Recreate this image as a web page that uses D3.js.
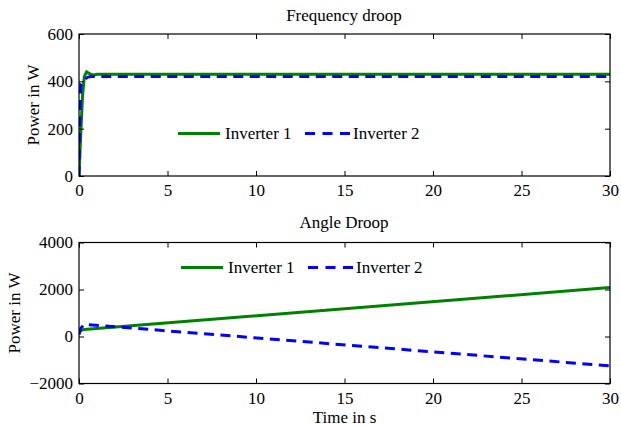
<!DOCTYPE html>
<html><head><meta charset="utf-8">
<script src="https://cdn.jsdelivr.net/npm/d3@7"></script>
<style>body{margin:0;background:#fff}svg text{font-family:"Liberation Serif","Times New Roman",serif;fill:#000}</style>
</head><body><svg id="c" width="621" height="426"></svg>
<script>
// Data
const xTicks = [0,5,10,15,20,25,30];
const yTicksTop = [0,200,400,600];
const yTicksBot = [-2000,0,2000,4000];
const seriesNames = ["Inverter 1","Inverter 2"];
// Frequency droop
const freqT1 = [0,0.1,0.2,0.3,0.43,0.6,0.8,1.0,1.5,30];
const freqP1 = [0,180,340,420,440,432,426,430,430,430];
const freqT2 = [0,0.05,0.1,0.2,0.35,0.5,0.7,30];
const freqP2 = [0,250,390,398,410,418,420,420];
// Angle droop
const angT1 = [0,0.1,0.3,30];
const angP1 = [150,250,300,2080];
const angT2 = [0,0.1,0.3,30];
const angP2 = [80,350,520,-1250];

const svg = d3.select("#c");
const L=79, R=610;
const x = d3.scaleLinear().domain([0,30]).range([L,R]);
const green="rgb(0,128,0)", blue="rgb(0,0,255)";
const fs=17;

function panel(top,bottom,yDomain,yTicks,title,titleY,ylabX,series,legY,legX){
  const y=d3.scaleLinear().domain(yDomain).range([bottom,top]);
  const g=svg.append("g");
  const line=d3.line().x(d=>x(d[0])).y(d=>y(d[1]));
  const clipId="clip"+Math.round(top);
  svg.append("clipPath").attr("id",clipId).append("rect").attr("x",L).attr("y",top).attr("width",R-L).attr("height",bottom-top);
  series.forEach(s=>{
    g.append("path").datum(s.t.map((t,i)=>[t,s.p[i]])).attr("d",line)
     .attr("fill","none").attr("stroke",s.color).attr("stroke-width",3)
     .attr("stroke-dasharray",s.dash||null).attr("clip-path","url(#"+clipId+")");
  });
  g.append("g").attr("transform",`translate(0,${bottom})`)
   .call(d3.axisBottom(x).tickValues(xTicks).tickSize(-5).tickPadding(8).tickFormat(d3.format("d")))
   .call(a=>{a.select(".domain").remove();a.selectAll("text").attr("font-size",fs).attr("font-family","Liberation Serif");});
  g.append("g").attr("transform",`translate(0,${top})`)
   .call(d3.axisTop(x).tickValues(xTicks).tickSize(-5).tickFormat(""))
   .call(a=>a.select(".domain").remove());
  g.append("g").attr("transform",`translate(${L},0)`)
   .call(d3.axisLeft(y).tickValues(yTicks).tickSize(-5).tickPadding(6).tickFormat(d=>d<0?"\u2212"+Math.abs(d):String(d)))
   .call(a=>{a.select(".domain").remove();a.selectAll("text").attr("font-size",fs).attr("font-family","Liberation Serif");});
  g.append("g").attr("transform",`translate(${R},0)`)
   .call(d3.axisRight(y).tickValues(yTicks).tickSize(-5).tickFormat(""))
   .call(a=>a.select(".domain").remove());
  g.selectAll(".tick line").attr("stroke","#000");
  g.append("rect").attr("x",L).attr("y",top).attr("width",R-L).attr("height",bottom-top)
   .attr("fill","none").attr("stroke","#000").attr("stroke-width",1.2);
  svg.append("text").attr("x",344).attr("y",titleY).attr("text-anchor","middle").attr("font-size",fs).text(title);
  svg.append("text").attr("transform",`translate(${ylabX},${(top+bottom)/2}) rotate(-90)`)
   .attr("text-anchor","middle").attr("font-size",fs).text("Power in W");
  const lg=svg.append("g");
  lg.append("line").attr("x1",legX).attr("x2",legX+42).attr("y1",legY).attr("y2",legY).attr("stroke",green).attr("stroke-width",3);
  lg.append("text").attr("x",legX+47).attr("y",legY+5.5).attr("font-size",fs).text(seriesNames[0]);
  lg.append("line").attr("x1",legX+127).attr("x2",legX+172).attr("y1",legY).attr("y2",legY).attr("stroke",blue).attr("stroke-width",3).attr("stroke-dasharray","10,7.5");
  lg.append("text").attr("x",legX+175).attr("y",legY+5.5).attr("font-size",fs).text(seriesNames[1]);
}

panel(34,176,[0,600],yTicksTop,"Frequency droop",21,39,
  [{t:freqT1,p:freqP1,color:green},{t:freqT2,p:freqP2,color:blue,dash:"10,6.5"}],133.5,178);
panel(242.5,383.5,[-2000,4000],yTicksBot,"Angle Droop",228,20,
  [{t:angT1,p:angP1,color:green},{t:angT2,p:angP2,color:blue,dash:"10,6.5"}],267.5,181);
svg.append("text").attr("x",344.5).attr("y",423).attr("text-anchor","middle").attr("font-size",fs).text("Time in s");
</script></body></html>
